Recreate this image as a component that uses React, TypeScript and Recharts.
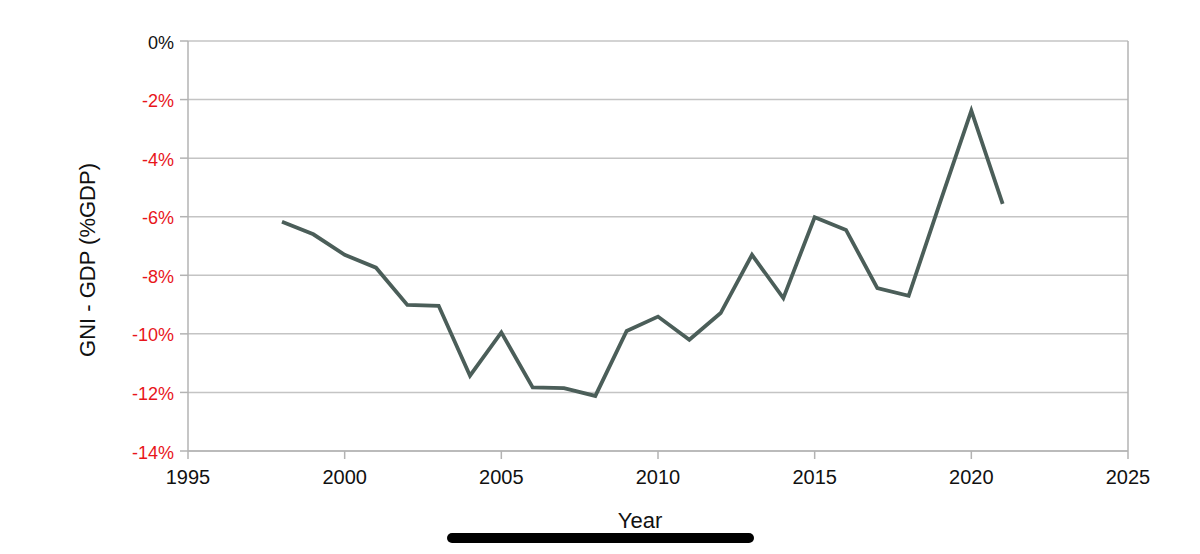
import React from 'react';
import { LineChart, Line, XAxis, YAxis, CartesianGrid, ReferenceLine } from 'recharts';

const years = [1998, 1999, 2000, 2001, 2002, 2003, 2004, 2005, 2006, 2007, 2008, 2009, 2010, 2011, 2012, 2013, 2014, 2015, 2016, 2017, 2018, 2019, 2020, 2021];
const gniGdp = [-6.17, -6.6, -7.3, -7.74, -9.01, -9.04, -11.43, -9.95, -11.83, -11.85, -12.12, -9.9, -9.41, -10.2, -9.29, -7.3, -8.78, -6.02, -6.45, -8.44, -8.7, -5.52, -2.38, -5.56];
const xTicks = [1995, 2000, 2005, 2010, 2015, 2020, 2025];
const yTicks = [-14, -12, -10, -8, -6, -4, -2, 0];

const data = years.map((y, i) => ({ year: y, value: gniGdp[i] }));

const FONT = "'Liberation Sans', Arial, Helvetica, sans-serif";
const AXIS = '#b3b3b3';

const YTick = (props: any) => {
  const { x, y, payload } = props;
  const v = payload.value;
  return (
    <text x={x} y={y} dy={7.5} textAnchor="end" fontSize={18} fontFamily={FONT} fill={v < 0 ? '#e8151b' : '#111'}>
      {v + '%'}
    </text>
  );
};

const XTick = (props: any) => {
  const { x, y, payload } = props;
  return (
    <text x={x} y={y} dy={23} textAnchor="middle" fontSize={20} fontFamily={FONT} fill="#111">
      {payload.value}
    </text>
  );
};

const YTitle = (props: any) => {
  const vb = props.viewBox || {};
  const cx = 87;
  const cy = vb.y + vb.height / 2 + 14;
  return (
    <text x={cx} y={cy} transform={`rotate(-90 ${cx} ${cy})`} textAnchor="middle" dominantBaseline="central" fontSize={22} fontFamily={FONT} fill="#111">
      GNI - GDP (%GDP)
    </text>
  );
};

const XTitle = (props: any) => {
  const vb = props.viewBox || {};
  const cx = vb.x + vb.width / 2 - 18;
  return (
    <text x={cx} y={528} textAnchor="middle" fontSize={22} fontFamily={FONT} fill="#111">
      Year
    </text>
  );
};

export default function App() {
  return (
    <div style={{ position: 'absolute', left: 0, top: 0, width: 1200, height: 554, background: '#fff' }}>
      <LineChart width={1200} height={554} data={data} margin={{ top: 41, right: 72, bottom: 0, left: 0 }}>
        <CartesianGrid vertical={false} stroke="#c4c4c4" strokeWidth={1.5} />
        <XAxis
          dataKey="year"
          type="number"
          domain={[1995, 2025]}
          ticks={xTicks}
          height={103}
          stroke={AXIS}
          strokeWidth={1.5}
          tickSize={8}
          tick={<XTick />}
          label={<XTitle />}
        />
        <YAxis
          type="number"
          domain={[-14, 0]}
          ticks={yTicks}
          width={188}
          stroke={AXIS}
          strokeWidth={1.5}
          tickSize={8}
          tickMargin={6}
          tick={<YTick />}
          label={<YTitle />}
        />
        <ReferenceLine x={2025} stroke={AXIS} strokeWidth={1.5} />
        <Line
          type="linear"
          dataKey="value"
          stroke="#4b5e59"
          strokeWidth={3.8}
          dot={false}
          isAnimationActive={false}
        />
      </LineChart>
      <div style={{ position: 'absolute', left: 447, top: 533, width: 307, height: 10, borderRadius: 5, background: '#000' }} />
    </div>
  );
}
